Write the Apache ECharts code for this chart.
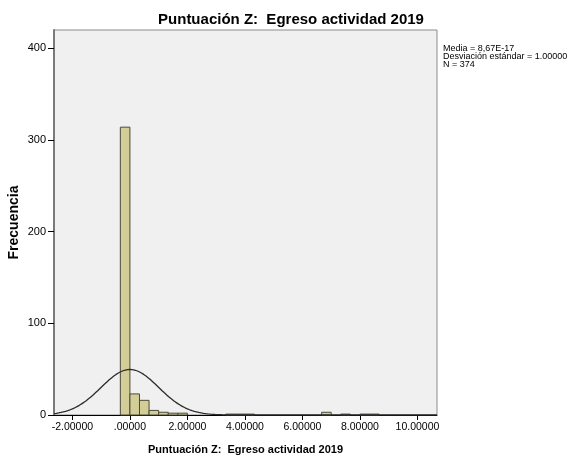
<!DOCTYPE html>
<html>
<head>
<meta charset="utf-8">
<script src="https://cdn.jsdelivr.net/npm/echarts@6/dist/echarts.min.js"></script>
<style>
  html, body { margin: 0; padding: 0; background: #ffffff; }
  #chart { width: 568px; height: 460px; }
</style>
</head>
<body>
<div id="chart"></div>
<script>
// Histogram of standardized scores (Z) with fitted normal curve
const binWidth = 0.333;
const binStarts = [-0.333, 0.000, 0.333, 0.667, 1.000, 1.333, 1.667, 3.333, 3.667, 4.000, 6.667, 7.333, 8.000, 8.333];
const counts    = [314, 23, 16, 5, 3, 2, 2, 1, 1, 1, 3, 1, 1, 1];

const xTicks = [-2, 0, 2, 4, 6, 8, 10];
const xTickLabels = ['-2.00000', '.00000', '2.00000', '4.00000', '6.00000', '8.00000', '10.00000'];
const yTicks = [0, 100, 200, 300, 400];

const mean = 8.67e-17;
const sd = 1.0;
const n = 374;
const statsLines = ['Media = 8,67E-17', 'Desviación estándar = 1.00000', 'N = 374'];

const xMin = -2.64, xMax = 10.68, yMax = 420;

// Expected frequency curve for a normal distribution with the stated mean/sd/N
const curve = [];
for (let x = xMin; x <= xMax + 1e-9; x += 0.04) {
  const z = (x - mean) / sd;
  curve.push([x, n * binWidth * Math.exp(-0.5 * z * z) / (sd * Math.sqrt(2 * Math.PI))]);
}

const bars = binStarts.map((s, i) => [s, s + binWidth, counts[i]]);

const font = 'Arial, "Liberation Sans", sans-serif';
const chart = echarts.init(document.getElementById('chart'), null, { renderer: 'canvas' });

chart.setOption({
  animation: false,
  backgroundColor: '#ffffff',
  title: {
    text: 'Puntuación Z:  Egreso actividad 2019',
    left: 286, top: 7, textAlign: 'center',
    textStyle: { fontFamily: font, fontSize: 15, fontWeight: 'bold', color: '#000' }
  },
  grid: {
    left: 54, right: 131, top: 30, bottom: 45,
    containLabel: false, outerBoundsMode: 'none',
    show: true, backgroundColor: '#F0F0F0', borderColor: '#8c8c8c', borderWidth: 1
  },
  xAxis: {
    type: 'value', min: xMin, max: xMax,
    name: 'Puntuación Z:  Egreso actividad 2019',
    nameLocation: 'middle', nameGap: 29, nameMoveOverlap: false,
    nameTextStyle: { fontFamily: font, fontSize: 11, fontWeight: 'bold', color: '#000' },
    axisLine: { show: true, onZero: false, lineStyle: { color: '#000', width: 1 } },
    axisTick: { show: true, length: 5, customValues: xTicks, lineStyle: { color: '#000' } },
    axisLabel: {
      customValues: xTicks, fontFamily: font, fontSize: 10.5, color: '#000', margin: 7,
      formatter: v => xTickLabels[xTicks.indexOf(Math.round(v))] || ''
    },
    splitLine: { show: false }
  },
  yAxis: {
    type: 'value', min: 0, max: yMax,
    name: 'Frecuencia', nameLocation: 'middle', nameGap: 33, nameRotate: 90, nameMoveOverlap: false,
    nameTextStyle: { fontFamily: font, fontSize: 14, fontWeight: 'bold', color: '#000' },
    axisLine: { show: true, onZero: false, lineStyle: { color: '#7a7a7a', width: 2 } },
    axisTick: { show: true, length: 6, customValues: yTicks, lineStyle: { color: '#000' } },
    axisLabel: { customValues: yTicks, fontFamily: font, fontSize: 11, color: '#000', margin: 8 },
    splitLine: { show: false }
  },
  graphic: statsLines.map((t, i) => ({
    type: 'text', left: 443, top: 44 + i * 8,
    style: { text: t, fontFamily: font, fontSize: 9, fill: '#000' }
  })),
  series: [
    {
      type: 'custom',
      data: bars,
      renderItem: (params, api) => {
        const p0 = api.coord([api.value(0), api.value(2)]);
        const p1 = api.coord([api.value(1), 0]);
        return {
          type: 'rect',
          shape: { x: p0[0], y: p0[1], width: p1[0] - p0[0], height: p1[1] - p0[1] },
          style: { fill: '#D3CD98', stroke: '#4a4a3a', lineWidth: 1 }
        };
      },
      encode: { x: [0, 1], y: 2 },
      z: 2
    },
    {
      type: 'line',
      data: curve,
      showSymbol: false,
      smooth: false,
      lineStyle: { color: '#2b2b2b', width: 1.3 },
      clip: true,
      z: 3
    }
  ]
});
</script>
</body>
</html>
